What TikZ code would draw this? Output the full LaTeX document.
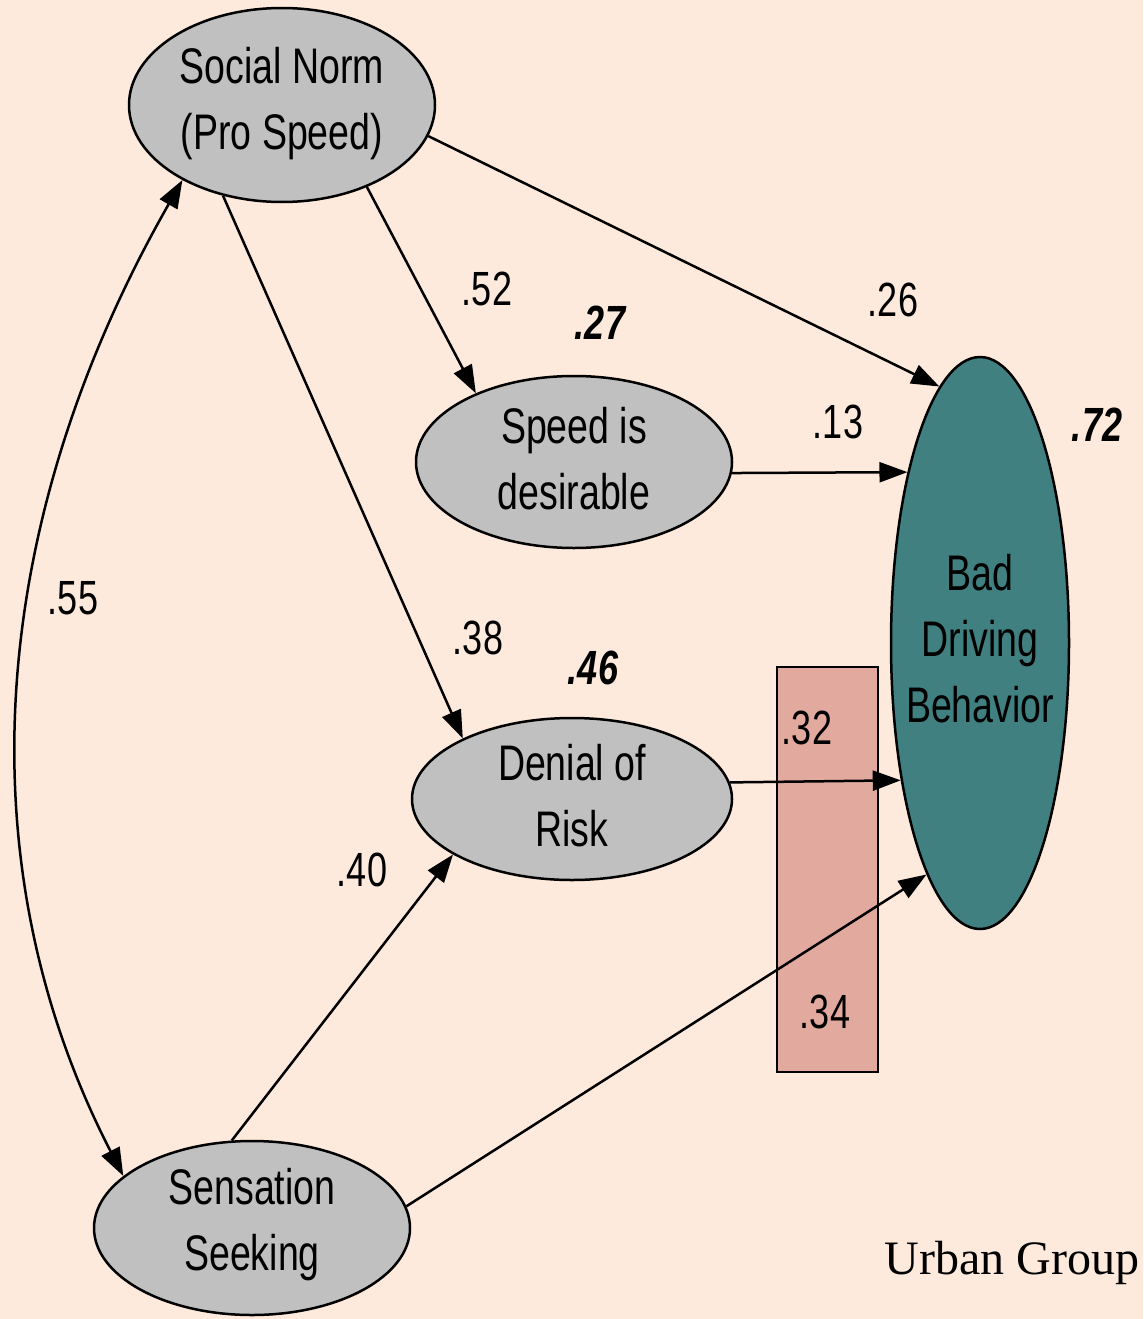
\documentclass[tikz,border=0pt]{standalone}
\usepackage{fontspec}
\setmainfont[FakeStretch=0.75]{Liberation Sans}
\newfontfamily\captionserif{Liberation Serif}
\usetikzlibrary{shapes.geometric,arrows.meta}
\definecolor{paper}{RGB}{253,234,220}
\definecolor{nodegrey}{RGB}{192,192,192}
\definecolor{outcome}{RGB}{64,128,128}
\definecolor{band}{RGB}{226,170,158}
\begin{document}
\begin{tikzpicture}[x=1pt,y=-1pt,
  ell/.style={ellipse, draw=black, line width=2.5pt, fill=nodegrey, inner sep=0pt},
  lbl/.style={font=\fontsize{50}{66}\selectfont, align=center, inner sep=0pt, yshift=3pt},
  coef/.style={font=\fontsize{48}{58}\selectfont, inner sep=0pt},
  rsq/.style={font=\fontsize{48}{58}\selectfont\bfseries\itshape, inner sep=0pt},
  link/.style={line width=2.5pt, -{Triangle[length=28pt,width=20pt]}},
]
% canvas
\fill[paper] (0,0) rectangle (1143,1319);
\useasboundingbox (0,0) rectangle (1143,1319);

% shaded band behind the two lower coefficients
\node[draw=black, line width=2pt, fill=band, minimum width=101pt, minimum height=405pt, inner sep=0pt] (band) at (827.5,869.5) {};

% latent variables
\node[ell, minimum width=306pt, minimum height=194pt,
      label={[lbl, yshift=-2pt]center:Social Norm\\(Pro Speed)}] (sn) at (282,105) {};
\node[ell, minimum width=316pt, minimum height=172pt,
      label={[lbl]center:Speed is\\desirable}] (sd) at (574,462) {};
\node[ell, minimum width=320pt, minimum height=162pt,
      label={[lbl]center:Denial of\\Risk}] (dr) at (572,799) {};
\node[ell, minimum width=316pt, minimum height=174pt,
      label={[lbl]center:Sensation\\Seeking}] (ss) at (252,1228) {};
\node[ell, fill=outcome, minimum width=178pt, minimum height=572pt,
      label={[lbl, yshift=1pt]center:Bad\\Driving\\Behavior}] (bdb) at (980,643) {};

% paths
\draw[link] (sn.-44) -- (sd.145);
\draw[link] (sn.237) -- (dr.151);
\draw[link] (sn.-12.7) -- (bdb.99.6);
\draw[link] (sd.-4) -- (bdb.113.4);
\draw[link] (dr.6.2) -- (bdb.240.3);
\draw[link] (ss.103) -- (dr.205.6);
\draw[link] (ss.8) -- (bdb.257.3);
% correlation
\draw[line width=2.5pt, {Triangle[length=28pt,width=20pt]}-{Triangle[length=28pt,width=20pt]}]
  (sn.217) .. controls (-13,523) and (-37,865) .. (ss.158);

% coefficients
\node[coef] (c52) at (487,289) {.52};
\node[coef] (c26) at (893,300) {.26};
\node[coef] (c13) at (838,422) {.13};
\node[coef] (c55) at (73,598) {.55};
\node[coef] (c38) at (478,638) {.38};
\node[coef] (c32) at (807,728) {.32};
\node[coef] (c40) at (362,870) {.40};
\node[coef] (c34) at (825,1012) {.34};

% explained variance
\node[rsq] (r27) at (600,323) {.27};
\node[rsq] (r46) at (593,668) {.46};
\node[rsq] (r72) at (1097,425) {.72};

% group caption
\node[font=\captionserif\fontsize{48}{58}\selectfont, inner sep=0pt] (grp) at (1012,1263) {Urban Group};
\end{tikzpicture}
\end{document}
